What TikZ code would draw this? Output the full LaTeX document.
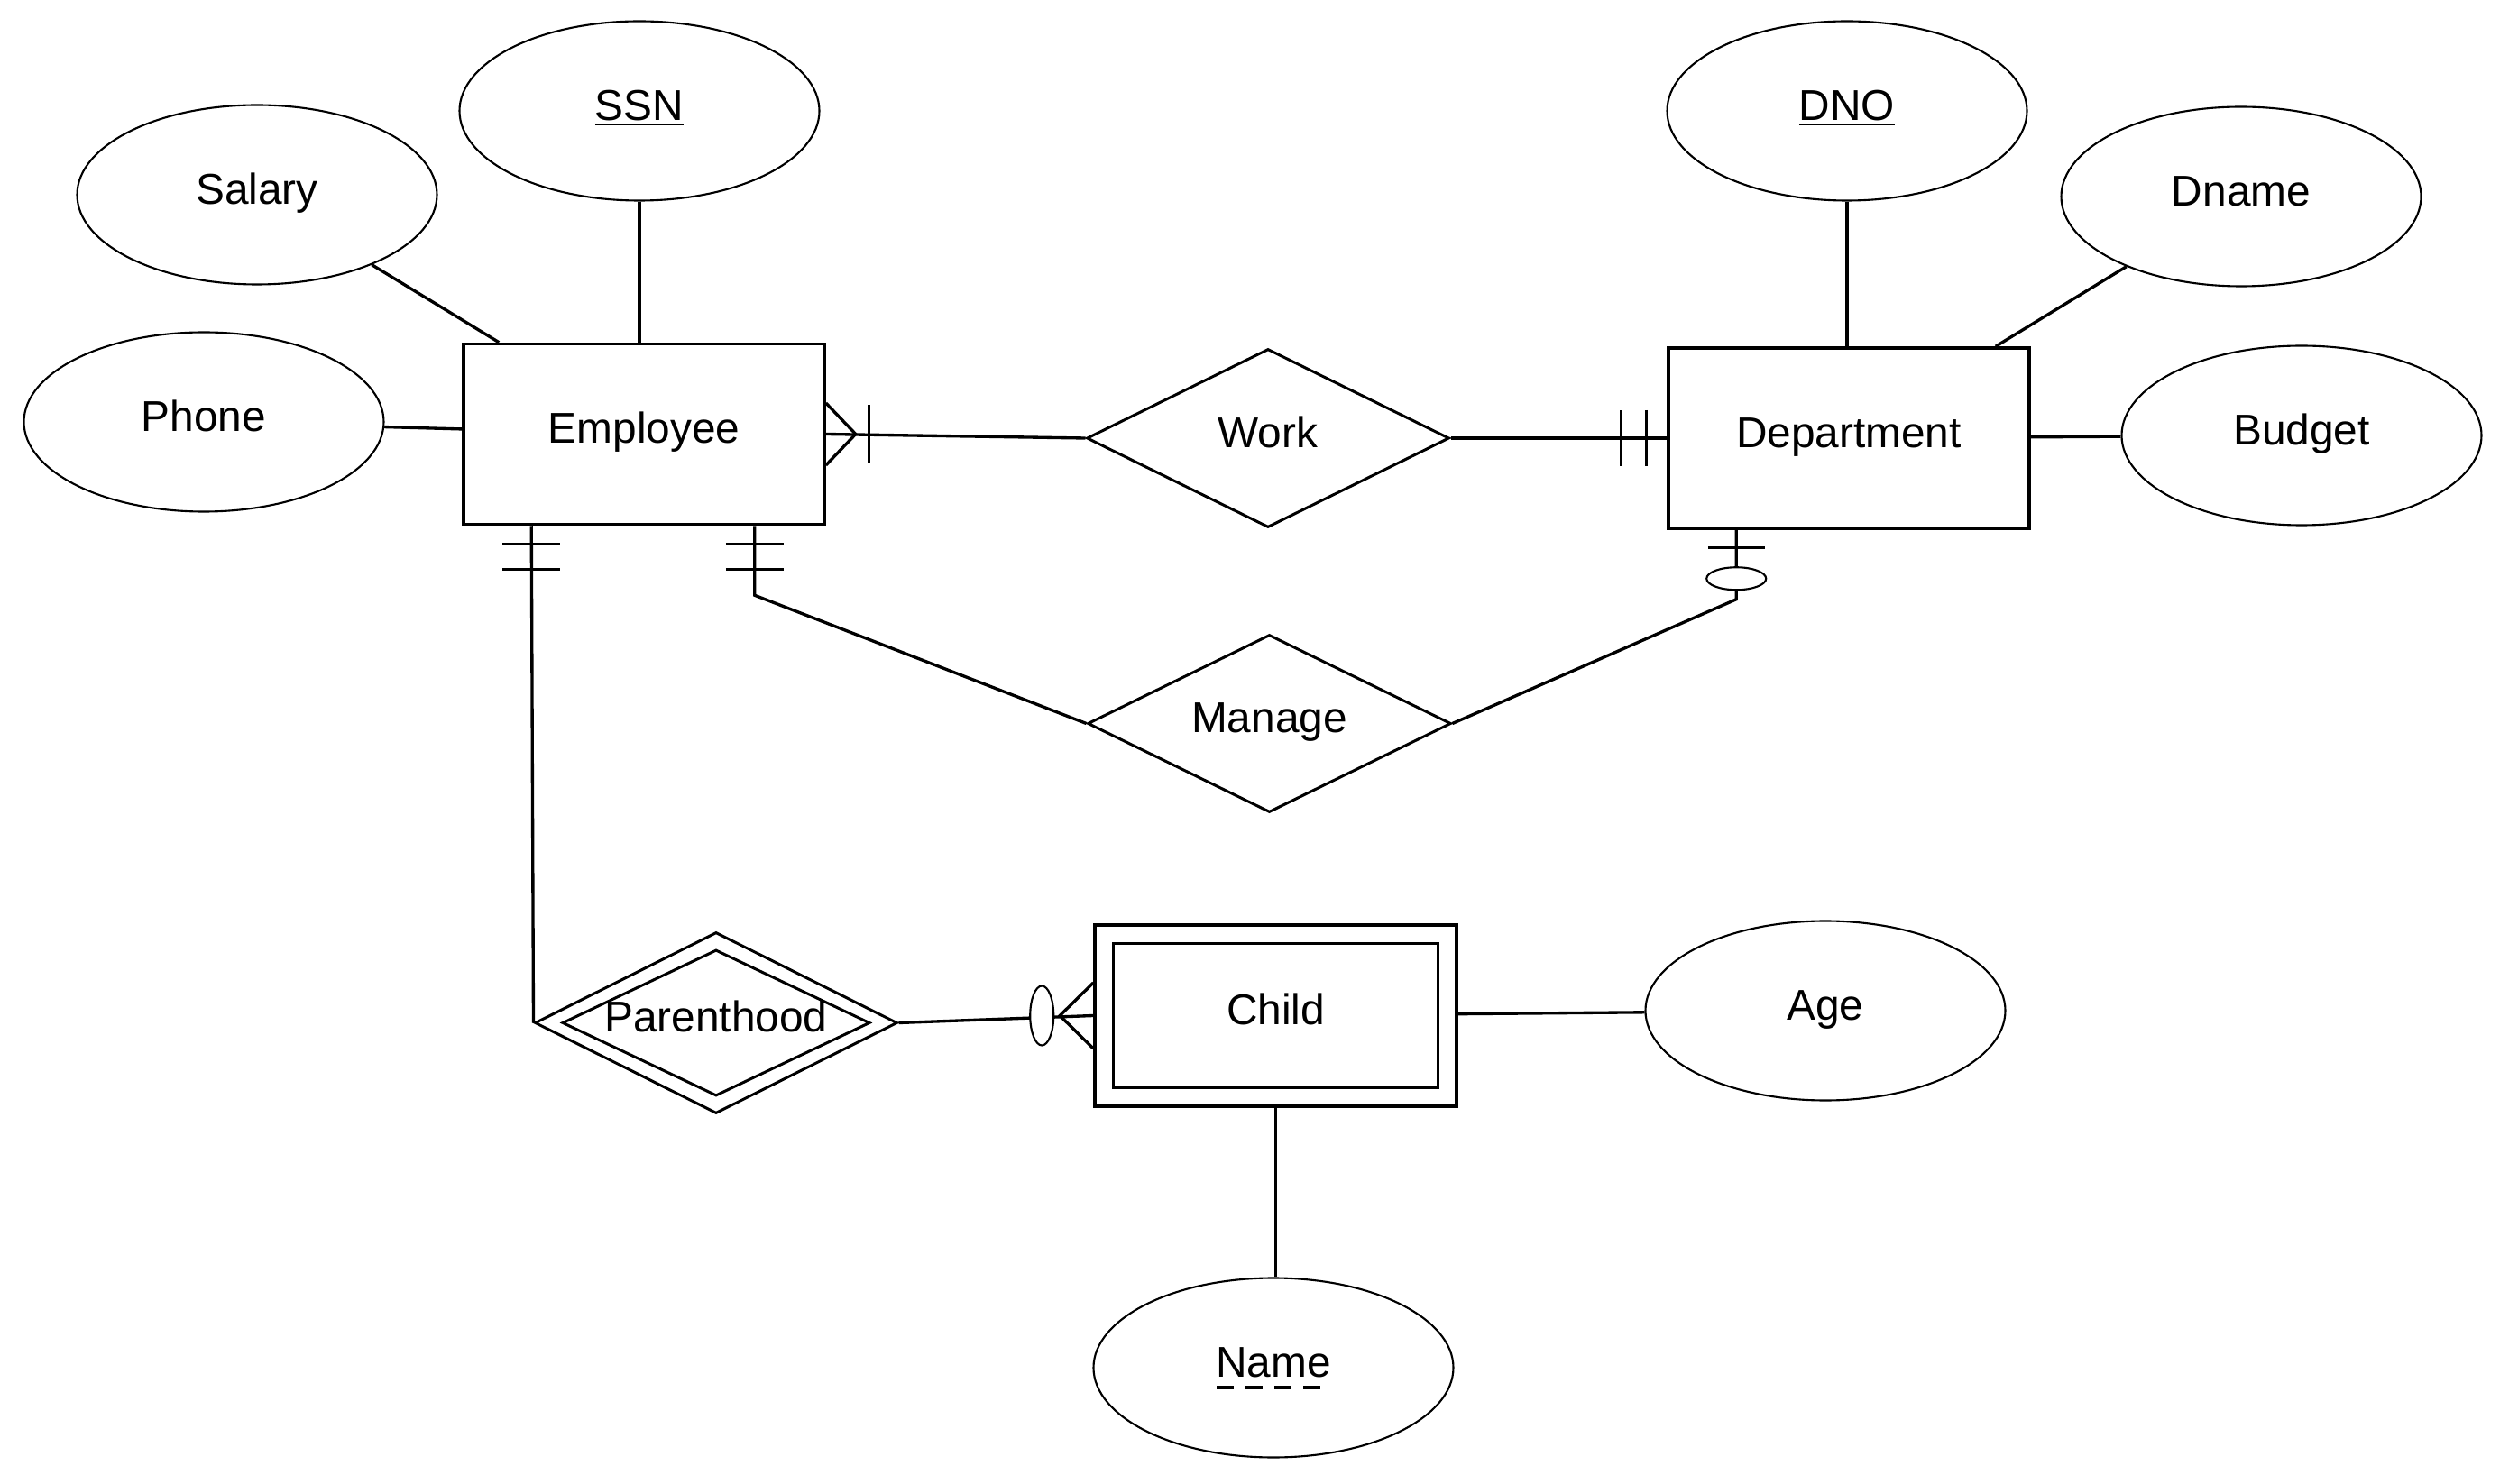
\documentclass[tikz,border=0pt]{standalone}
\usepackage{fontspec}
\setmainfont{Liberation Sans}
\usepackage{tikz}
\usetikzlibrary{shapes.geometric, calc}

\begin{document}
\begin{tikzpicture}[
        font=\fontsize{13.6}{16}\selectfont,
        every node/.style={text height=0.75em, text depth=0.18em},
        entity/.style={rectangle, draw, line width=1pt, minimum width=4cm,
                       minimum height=2cm, inner sep=0pt, fill=white},
        attr/.style={ellipse, draw, line width=0.6pt, minimum width=3.99cm,
                     minimum height=1.99cm, inner sep=0pt},
        rel/.style={diamond, draw, line width=0.85pt, shape aspect=2, inner sep=0pt,
                    minimum width=4.02cm, minimum height=1.98cm},
        link/.style={line width=0.95pt},
        tick/.style={line width=0.95pt}
    ]
    \useasboundingbox (0,0) rectangle (27.82,-16.46);

    % Entities
    \node[entity] (emp) at (7.14,-4.815) {Employee};
    \node[entity] (dept) at (20.50,-4.86) {Department};
    \node[entity, minimum width=4.01cm, minimum height=2.01cm] (child) at (14.145,-11.265) {};
    \node[entity, minimum width=3.6cm, minimum height=1.6cm] (childin) at (child) {Child};

    % Relationships
    \node[rel] (work) at (14.06,-4.86) {Work};
    \node[rel, minimum width=4.03cm, minimum height=1.97cm] (manage) at (14.075,-8.025) {Manage};
    \node[rel, minimum height=2.01cm] (parent) at (7.94,-11.345) {};
    \node[rel, minimum width=3.41cm, minimum height=1.62cm] (parentin) at (parent) {Parenthood};

    % Attributes
    \node[attr] (ssn) at (7.09,-1.23) {\underline{SSN}};
    \node[attr] (salary) at (2.85,-2.16) {Salary};
    \node[attr] (phone) at (2.26,-4.68) {Phone};
    \node[attr] (dno) at (20.48,-1.23) {\underline{DNO}};
    \node[attr] (dname) at (24.85,-2.18) {Dname};
    \node[attr] (budget) at (25.52,-4.83) {Budget};
    \node[attr] (age) at (20.24,-11.21) {Age};
    \node[attr] (name) at (14.12,-15.17) {Name};
    % partial key
    \draw[line width=1.1pt, dash pattern=on 0.19cm off 0.13cm]
        ([shift={(-0.63cm,-0.22cm)}]name.center) -- ++(1.16,0);

    % Attribute links
    \draw[link] (ssn) -- (ssn |- emp.north);
    \draw[link] (salary) -- ([xshift=0.41cm]emp.north west);
    \draw[link] (phone) -- (emp);
    \draw[link] (dno) -- (dno |- dept.north);
    \draw[link] (dname) -- ([xshift=-0.39cm]dept.north east);
    \draw[link] (dept) -- (budget);
    \draw[link] (child) -- (age);
    \draw[link] (child.south) -- (child.south |- name.north);

    % Relationship links
    \draw[link] (emp.east) -- (work.west);
    \draw[link] (work.east) -- (dept.west);
    \draw[link] ([xshift=-0.79cm]emp.south east) coordinate (ms) -- ++(0,-0.77) -- (manage.west);
    \draw[link] ([xshift=0.77cm]dept.south west) coordinate (md) -- ++(0,-0.77) -- (manage.east);
    \draw[link] ([xshift=0.77cm]emp.south west) coordinate (ps) -- (parent.west);
    \draw[link] (parent.east) -- (child.west);

    % Cardinality marks
    \draw[tick] ([yshift=0.345cm]emp.east) -- ([xshift=0.33cm]emp.east) -- ([yshift=-0.345cm]emp.east);
    \draw[tick] ([shift={(0.48cm,0.32cm)}]emp.east) -- ++(0,-0.64);
    \foreach \dx in {0.23,0.51}
        \draw[tick] ([shift={(-\dx cm,0.31cm)}]dept.west) -- ++(0,-0.62);
    \foreach \p in {ps,ms}
        \foreach \dy in {0.20,0.48}
            \draw[tick] ([shift={(-0.32cm,-\dy cm)}]\p) -- ++(0.64,0);
    \draw[tick] ([shift={(-0.315cm,-0.20cm)}]md) -- ++(0.63,0);
    \draw[line width=0.6pt, fill=white] ([yshift=-0.54cm]md) ellipse [x radius=0.33cm, y radius=0.125cm];
    \draw[tick] ([yshift=0.365cm]child.west) -- ([xshift=-0.37cm]child.west) -- ([yshift=-0.365cm]child.west);
    \draw[line width=0.6pt, fill=white] ([xshift=-0.57cm]child.west) ellipse [x radius=0.13cm, y radius=0.33cm];
\end{tikzpicture}
\end{document}
